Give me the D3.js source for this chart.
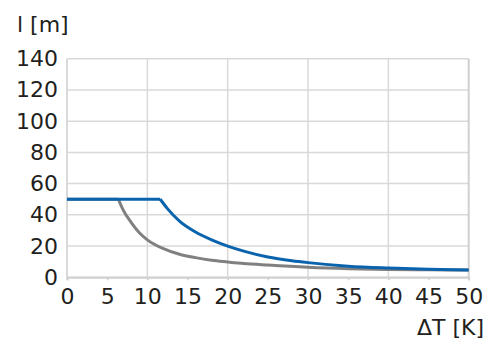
<!DOCTYPE html>
<html>
<head>
<meta charset="utf-8" />
<title>l over dT</title>
<script src="https://cdn.jsdelivr.net/npm/d3@7"></script>
<style>
  body { margin: 0; background: #fff; }
  text { font-family: "DejaVu Sans", sans-serif; fill: #231f20; }
</style>
</head>
<body>
<div id="chart"></div>
<script>
// values
var xTicks = [0, 5, 10, 15, 20, 25, 30, 35, 40, 45, 50];
var yTicks = [0, 20, 40, 60, 80, 100, 120, 140];
var blueT = [0, 11.6, 12.5, 14, 16, 18, 20, 22, 25, 28, 30, 35, 40, 45, 50];
var blueL = [50, 50, 44, 36, 29, 24, 20, 16.8, 13, 10.6, 9.4, 7.1, 5.9, 5.1, 4.7];
var grayT = [0, 6.4, 7, 8, 9, 10, 12, 14, 16, 18, 20, 22, 25, 30, 35, 40, 45, 50];
var grayL = [50, 50, 43, 35, 28.5, 24, 18.3, 14.8, 12.6, 10.9, 9.8, 8.8, 7.8, 6.4, 5.5, 5.0, 4.8, 4.6];

var width = 500, height = 340;
var margin = { top: 58.7, right: 31.3, bottom: 62.7, left: 67 };
var fontSize = 22;

var svg = d3.select("#chart").append("svg").attr("width", width).attr("height", height);

var x = d3.scaleLinear().domain([0, 50]).range([margin.left, width - margin.right]);
var y = d3.scaleLinear().domain([0, 140]).range([height - margin.bottom, margin.top]);

var grid = svg.append("g");
// horizontal grid
grid.selectAll("line.h").data(yTicks).enter().append("line")
  .attr("x1", x(0)).attr("x2", x(50))
  .attr("y1", function(d) { return y(d); }).attr("y2", function(d) { return y(d); })
  .attr("stroke", "#d9d9d9").attr("stroke-width", 1.5);
// vertical grid every 10
grid.selectAll("line.v").data(xTicks.filter(function(d) { return d % 10 == 0; })).enter().append("line")
  .attr("x1", function(d) { return x(d); }).attr("x2", function(d) { return x(d); })
  .attr("y1", y(140)).attr("y2", y(0))
  .attr("stroke", function(d) { return d == 50 ? "#d0d0d0" : "#d9d9d9"; })
  .attr("stroke-width", function(d) { return d == 50 || d == 0 ? 2 : 1.5; });

// bottom axis
var xAxis = d3.axisBottom(x).tickValues(xTicks).tickSize(3).tickPadding(8);
var gx = svg.append("g").attr("transform", "translate(0," + y(0) + ")").call(xAxis);
gx.select(".domain").attr("stroke", "#d0d0d0").attr("stroke-width", 2);
gx.selectAll(".tick line").attr("stroke", "#d0d0d0").attr("stroke-width", 1.5);
gx.selectAll(".tick text").attr("font-size", fontSize).attr("font-family", "DejaVu Sans").attr("fill", "#231f20");

// left axis
var yAxis = d3.axisLeft(y).tickValues(yTicks).tickSize(0).tickPadding(9);
var gy = svg.append("g").attr("transform", "translate(" + x(0) + ",0)").call(yAxis);
gy.select(".domain").remove();
gy.selectAll(".tick text").attr("font-size", fontSize).attr("font-family", "DejaVu Sans").attr("fill", "#231f20");

var flat = d3.line()
  .x(function(d) { return x(d[0]); })
  .y(function(d) { return y(d[1]); });
var curve = d3.line()
  .x(function(d) { return x(d[0]); })
  .y(function(d) { return y(d[1]); })
  .curve(d3.curveMonotoneX);

// flat part straight, falling part smooth, with a sharp knee between
function drawSeries(ts, ls, color) {
  var pts = d3.zip(ts, ls);
  var g = svg.append("g").attr("fill", "none").attr("stroke", color)
    .attr("stroke-width", 3).attr("stroke-linejoin", "round");
  g.append("path").attr("d", flat(pts.slice(0, 2)));
  g.append("path").attr("d", curve(pts.slice(1)));
}
drawSeries(grayT, grayL, "#808080");
drawSeries(blueT, blueL, "#0a63ad");

// axis titles
svg.append("text").attr("x", 17).attr("y", 32).attr("font-size", fontSize).text("l [m]");
svg.append("text").attr("x", 484).attr("y", 335).attr("font-size", fontSize)
  .attr("text-anchor", "end").text("ΔT [K]");
</script>
</body>
</html>
